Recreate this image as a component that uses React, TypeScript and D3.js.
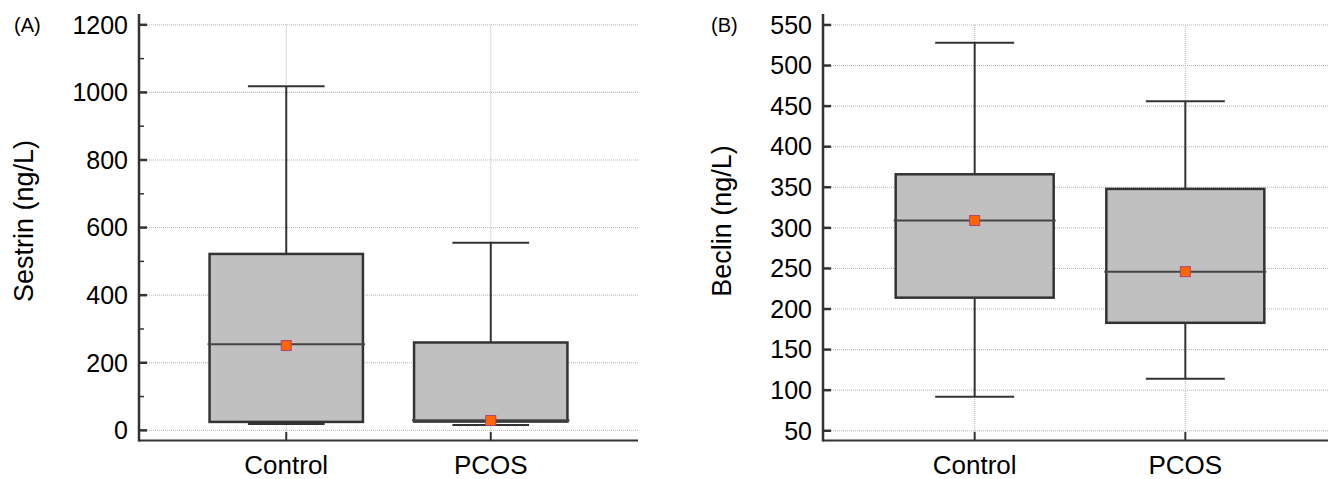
import { useEffect, useRef } from "react";
import * as d3 from "d3";

// box statistics
const groups = ["Control", "PCOS"];

const sestrinMin = [19, 16];
const sestrinQ1 = [25, 26];
const sestrinMedian = [255, 30];
const sestrinQ3 = [522, 260];
const sestrinMax = [1018, 555];
const sestrinMean = [251, 29];
const sestrinTicks = [0, 200, 400, 600, 800, 1000, 1200];
const sestrinMinor = [100, 300, 500, 700, 900, 1100];

const beclinMin = [92, 114];
const beclinQ1 = [214, 183];
const beclinMedian = [309, 246];
const beclinQ3 = [366, 348];
const beclinMax = [528, 456];
const beclinMean = [309, 246];
const beclinTicks = [50, 100, 150, 200, 250, 300, 350, 400, 450, 500, 550];

const FONT = "Arial, 'Liberation Sans', sans-serif";

function drawPanel(svg, opt) {
  const y = d3.scaleLinear().domain(opt.yDomain).range([440.5, 14]);
  const x = d3.scalePoint().domain(groups).range(opt.xRange).padding(0.72);
  const step = x.step();
  const boxW = step * 0.75;
  const capW = boxW / 2;
  const left = opt.xRange[0];
  const right = opt.right;
  const g = svg.append("g");

  // grid
  g.selectAll(".hgrid")
    .data(opt.ticks)
    .enter()
    .append("line")
    .attr("x1", left + 8)
    .attr("x2", right)
    .attr("y1", d => y(d))
    .attr("y2", d => y(d))
    .attr("stroke", "#b5b5b5")
    .attr("stroke-width", 1)
    .attr("stroke-dasharray", "1,1");

  g.selectAll(".vgrid")
    .data(groups)
    .enter()
    .append("line")
    .attr("x1", d => x(d))
    .attr("x2", d => x(d))
    .attr("y1", y(opt.ticks[opt.ticks.length - 1]))
    .attr("y2", 440)
    .attr("stroke", "#b5b5b5")
    .attr("stroke-width", 1)
    .attr("stroke-dasharray", "1,1");

  // axes
  g.append("line")
    .attr("x1", left).attr("x2", left)
    .attr("y1", 14).attr("y2", 441.5)
    .attr("stroke", "#333").attr("stroke-width", 2.5);
  g.append("line")
    .attr("x1", left).attr("x2", right)
    .attr("y1", 440.5).attr("y2", 440.5)
    .attr("stroke", "#333").attr("stroke-width", 2);

  g.selectAll(".ytick")
    .data(opt.ticks)
    .enter()
    .append("line")
    .attr("x1", left).attr("x2", left + 8)
    .attr("y1", d => y(d)).attr("y2", d => y(d))
    .attr("stroke", "#333").attr("stroke-width", 2.5);

  g.selectAll(".yminor")
    .data(opt.minor)
    .enter()
    .append("line")
    .attr("x1", left).attr("x2", left + 5)
    .attr("y1", d => y(d)).attr("y2", d => y(d))
    .attr("stroke", "#333").attr("stroke-width", 1.5);

  g.selectAll(".ylabel")
    .data(opt.ticks)
    .enter()
    .append("text")
    .attr("x", left - 11)
    .attr("y", d => y(d))
    .attr("dy", "0.35em")
    .attr("text-anchor", "end")
    .attr("font-family", FONT)
    .attr("font-size", 25)
    .attr("fill", "#000")
    .text(d => d);

  g.selectAll(".xtick")
    .data(groups)
    .enter()
    .append("line")
    .attr("x1", d => x(d)).attr("x2", d => x(d))
    .attr("y1", 440.5).attr("y2", 432)
    .attr("stroke", "#333").attr("stroke-width", 2);

  g.selectAll(".xlabel")
    .data(groups)
    .enter()
    .append("text")
    .attr("x", d => x(d))
    .attr("y", 474)
    .attr("text-anchor", "middle")
    .attr("font-family", FONT)
    .attr("font-size", 26)
    .attr("fill", "#000")
    .text(d => d);

  g.append("text")
    .attr("transform", `translate(${opt.titleX},221) rotate(-90)`)
    .attr("text-anchor", "middle")
    .attr("dominant-baseline", "central")
    .attr("font-family", FONT)
    .attr("font-size", 27)
    .attr("fill", "#000")
    .text(opt.title);

  g.append("text")
    .attr("x", opt.tagX)
    .attr("y", 32)
    .attr("font-family", FONT)
    .attr("font-size", 20)
    .attr("fill", "#000")
    .text(opt.tag);

  // boxes
  groups.forEach((name, i) => {
    const cx = x(name);
    // whiskers
    g.append("line")
      .attr("x1", cx).attr("x2", cx)
      .attr("y1", y(opt.max[i])).attr("y2", y(opt.q3[i]))
      .attr("stroke", "#333").attr("stroke-width", 2);
    g.append("line")
      .attr("x1", cx).attr("x2", cx)
      .attr("y1", y(opt.q1[i])).attr("y2", y(opt.min[i]))
      .attr("stroke", "#333").attr("stroke-width", 2);
    [opt.max[i], opt.min[i]].forEach(v => {
      g.append("line")
        .attr("x1", cx - capW / 2).attr("x2", cx + capW / 2)
        .attr("y1", y(v)).attr("y2", y(v))
        .attr("stroke", "#333").attr("stroke-width", 2);
    });

    g.append("rect")
      .attr("x", cx - boxW / 2)
      .attr("y", y(opt.q3[i]))
      .attr("width", boxW)
      .attr("height", y(opt.q1[i]) - y(opt.q3[i]))
      .attr("fill", "#c0c0c0")
      .attr("stroke", "#333")
      .attr("stroke-width", 2.5);

    g.append("line")
      .attr("x1", cx - boxW / 2 - 2).attr("x2", cx + boxW / 2 + 2)
      .attr("y1", y(opt.median[i])).attr("y2", y(opt.median[i]))
      .attr("stroke", "#444").attr("stroke-width", 2);

    g.append("rect")
      .attr("x", cx - 5)
      .attr("y", y(opt.mean[i]) - 5)
      .attr("width", 10)
      .attr("height", 10)
      .attr("fill", "#ff6600")
      .attr("stroke", "#b0407a")
      .attr("stroke-width", 1);
  });
}

export default function App() {
  const ref = useRef(null);

  useEffect(() => {
    d3.select(ref.current).selectAll("*").remove();
    const svg = d3.select(ref.current);

    drawPanel(svg, {
      yDomain: [-30, 1232],
      xRange: [139, 638],
      right: 638,
      ticks: sestrinTicks,
      minor: sestrinMinor,
      min: sestrinMin,
      q1: sestrinQ1,
      median: sestrinMedian,
      q3: sestrinQ3,
      max: sestrinMax,
      mean: sestrinMean,
      title: "Sestrin (ng/L)",
      titleX: 24,
      tag: "(A)",
      tagX: 14,
    });

    drawPanel(svg, {
      yDomain: [38, 563.5],
      xRange: [823, 1337],
      right: 1328,
      ticks: beclinTicks,
      minor: [],
      min: beclinMin,
      q1: beclinQ1,
      median: beclinMedian,
      q3: beclinQ3,
      max: beclinMax,
      mean: beclinMean,
      title: "Beclin (ng/L)",
      titleX: 722,
      tag: "(B)",
      tagX: 711,
    });
  }, []);

  return (
    <svg
      ref={ref}
      width={1328}
      height={479}
      style={{ position: "absolute", left: 0, top: 0, background: "#fff" }}
    />
  );
}
